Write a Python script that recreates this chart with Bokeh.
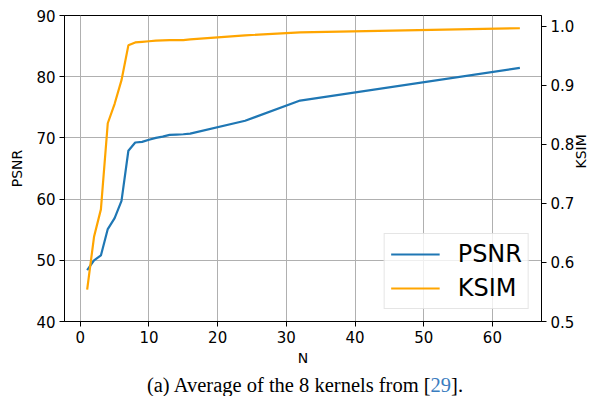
import math
from bokeh.plotting import figure
from bokeh.models import Range1d, LinearAxis, FixedTicker, PrintfTickFormatter, Div
from bokeh.layouts import column
from bokeh.embed import file_html
from bokeh.resources import INLINE

# ---- data ----
N = [1, 2, 3, 4, 5, 6, 7, 8, 9, 10, 11, 12, 13, 14, 15, 16, 24, 32, 64]
psnr = [48.4, 50.0, 50.8, 55.1, 56.9, 59.7, 67.9, 69.25, 69.35, 69.7, 70.0, 70.2,
        70.5, 70.55, 70.6, 70.7, 72.8, 76.1, 81.45]
ksim = [0.554, 0.6435, 0.690, 0.836, 0.869, 0.909, 0.968, 0.973, 0.974, 0.975, 0.976,
        0.9765, 0.977, 0.977, 0.977, 0.978, 0.985, 0.990, 0.997]
x_ticks = [0, 10, 20, 30, 40, 50, 60]
psnr_ticks = [40, 50, 60, 70, 80, 90]
ksim_ticks = [0.5, 0.6, 0.7, 0.8, 0.9, 1.0]
caption_main = "(a) Average of the 8 kernels from ["
caption_ref = "29"
caption_end = "]."

BLUE = "#1f77b4"
ORANGE = "#ffa500"
FONT = "DejaVu Sans"

p = figure(width=600, height=372, output_backend="svg", toolbar_location=None,
           x_range=Range1d(-2.3, 67.15), y_range=Range1d(40, 90),
           min_border_left=64, min_border_right=57, min_border_top=15, min_border_bottom=51)
p.extra_y_ranges = {"ksim": Range1d(0.5, 1.0186)}

p.line(N, psnr, line_color=BLUE, line_width=2.2, legend_label="PSNR")
p.line(N, ksim, line_color=ORANGE, line_width=2.2, y_range_name="ksim", legend_label="KSIM")

right = LinearAxis(y_range_name="ksim", axis_label="KSIM")
p.add_layout(right, "right")

p.xaxis.ticker = FixedTicker(ticks=x_ticks)
p.yaxis[0].ticker = FixedTicker(ticks=psnr_ticks)
right.ticker = FixedTicker(ticks=ksim_ticks)
right.formatter = PrintfTickFormatter(format="%.1f")
p.xaxis.axis_label = "N"
p.yaxis[0].axis_label = "PSNR"

for ax in p.axis:
    ax.major_label_text_font = FONT
    ax.major_label_text_font_size = "15px"
    ax.major_label_text_color = "black"
    ax.axis_label_text_font = FONT
    ax.axis_label_text_font_size = "14px"
    ax.axis_label_text_font_style = "normal"
    ax.axis_label_text_color = "black"
    ax.axis_line_color = "black"
    ax.major_tick_line_color = "black"
    ax.major_tick_out = 5
    ax.major_tick_in = 0
    ax.minor_tick_line_color = None
    ax.major_label_standoff = 4
    ax.axis_label_standoff = 8
p.xaxis.axis_label_standoff = 4
right.major_label_standoff = 4
right.axis_label_standoff = 4
right.axis_label_orientation = math.pi / 2

p.xgrid.ticker = FixedTicker(ticks=x_ticks)
p.ygrid.ticker = FixedTicker(ticks=psnr_ticks)
p.grid.grid_line_color = "#b0b0b0"
p.grid.grid_line_width = 1
p.outline_line_color = "black"
p.outline_line_width = 1

lg = p.legend[0]
lg.location = "bottom_right"
lg.margin = 12
lg.padding = 6
lg.spacing = 6
lg.glyph_width = 49
lg.glyph_height = 20
lg.label_standoff = 18
lg.label_text_font = FONT
lg.label_text_font_size = "24px"
lg.label_text_color = "black"
lg.label_height = 28
lg.border_line_color = "#cccccc"
lg.border_line_width = 1
lg.background_fill_alpha = 0.8

caption_html = (
    '<div style="font-family:\'Liberation Serif\',serif;font-size:20.5px;line-height:16px;'
    'text-align:center;width:591px;padding-left:9px;color:black;white-space:nowrap;">'
    + caption_main + '<span style="color:#3a7dbf;">' + caption_ref + '</span>'
    + caption_end + '</div>'
)
cap = Div(text=caption_html, width=600, height=24)

layout = column(p, cap, spacing=0)
open("out.html", "w").write(file_html(layout, INLINE))
